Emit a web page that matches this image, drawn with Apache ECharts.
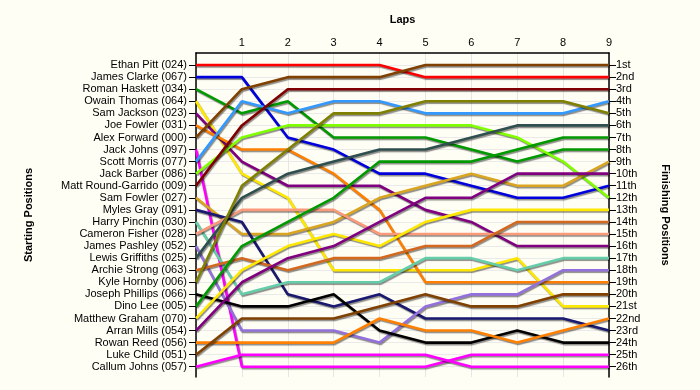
<!DOCTYPE html>
<html>
<head>
<meta charset="utf-8">
<script src="https://cdn.jsdelivr.net/npm/echarts@6/dist/echarts.min.js"></script>
<style>
html,body{margin:0;padding:0;background:#FFFEF5;}
#chart{width:700px;height:390px;}
</style>
</head>
<body>
<div id="chart"></div>
<script>
// ---- data ----
const laps = [0, 1, 2, 3, 4, 5, 6, 7, 8, 9];
const lapLabels = ['', '1', '2', '3', '4', '5', '6', '7', '8', '9'];
const drivers = [
  'Ethan Pitt (024)', 'James Clarke (067)', 'Roman Haskett (034)', 'Owain Thomas (064)',
  'Sam Jackson (023)', 'Joe Fowler (031)', 'Alex Forward (000)', 'Jack Johns (097)',
  'Scott Morris (077)', 'Jack Barber (086)', 'Matt Round-Garrido (009)', 'Sam Fowler (027)',
  'Myles Gray (091)', 'Harry Pinchin (030)', 'Cameron Fisher (028)', 'James Pashley (052)',
  'Lewis Griffiths (025)', 'Archie Strong (063)', 'Kyle Hornby (006)', 'Joseph Phillips (066)',
  'Dino Lee (005)', 'Matthew Graham (070)', 'Arran Mills (054)', 'Rowan Reed (056)',
  'Luke Child (051)', 'Callum Johns (057)'
];
const finishLabels = ['1st','2nd','3rd','4th','5th','6th','7th','8th','9th','10th','11th','12th','13th',
  '14th','15th','16th','17th','18th','19th','20th','21st','22nd','23rd','24th','25th','26th'];

// positions at lap 0..9
const ethanPitt        = [1, 1, 1, 1, 1, 2, 2, 2, 2, 2];
const jamesClarke      = [2, 2, 7, 8, 10, 10, 11, 12, 12, 11];
const romanHaskett     = [3, 5, 4, 7, 7, 7, 8, 9, 8, 8];
const owainThomas      = [4, 10, 12, 18, 18, 18, 18, 17, 21, 21];
const samJackson       = [5, 9, 11, 11, 11, 13, 14, 16, 16, 16];
const joeFowler        = [6, 8, 8, 10, 13, 19, 19, 19, 19, 19];
const alexForward      = [7, 3, 2, 2, 2, 1, 1, 1, 1, 1];
const jackJohns        = [8, 26, 26, 26, 26, 26, 25, 25, 25, 25];
const scottMorris      = [9, 4, 5, 4, 4, 5, 5, 5, 5, 4];
const jackBarber       = [10, 7, 6, 6, 6, 6, 6, 7, 9, 12];
const mattRoundGarrido = [11, 6, 3, 3, 3, 3, 3, 3, 3, 3];
const samFowler        = [12, 15, 15, 14, 12, 11, 10, 11, 11, 9];
const mylesGray        = [13, 14, 20, 21, 20, 22, 22, 22, 22, 23];
const harryPinchin     = [14, 20, 19, 19, 19, 17, 17, 18, 17, 17];
const cameronFisher    = [15, 13, 13, 13, 15, 15, 15, 15, 15, 15];
const jamesPashley     = [16, 23, 23, 23, 24, 21, 20, 20, 18, 18];
const lewisGriffiths   = [17, 12, 10, 9, 8, 8, 7, 6, 6, 6];
const archieStrong     = [18, 17, 18, 17, 17, 16, 16, 14, 14, 14];
const kyleHornby       = [19, 11, 8, 5, 5, 4, 4, 4, 4, 5];
const josephPhillips   = [20, 21, 21, 20, 23, 24, 24, 23, 24, 24];
const dinoLee          = [21, 16, 14, 12, 9, 9, 9, 8, 7, 7];
const matthewGraham    = [22, 18, 16, 15, 16, 14, 13, 13, 13, 13];
const arranMills       = [23, 19, 17, 16, 14, 12, 12, 10, 10, 10];
const rowanReed        = [24, 24, 24, 24, 22, 23, 23, 24, 23, 22];
const lukeChild        = [25, 22, 22, 22, 21, 20, 21, 21, 20, 20];
const callumJohns      = [26, 25, 25, 25, 25, 25, 26, 26, 26, 26];

const positionLists = [
  ethanPitt, jamesClarke, romanHaskett, owainThomas, samJackson, joeFowler, alexForward,
  jackJohns, scottMorris, jackBarber, mattRoundGarrido, samFowler, mylesGray, harryPinchin,
  cameronFisher, jamesPashley, lewisGriffiths, archieStrong, kyleHornby, josephPhillips,
  dinoLee, matthewGraham, arranMills, rowanReed, lukeChild, callumJohns
];

// ---- styles ----
const colors = [
  '#FF0000', '#0000DD', '#009900', '#FFE800', '#800080', '#FF8000', '#804000', '#FF00FF',
  '#3399FF', '#80FF00', '#800000', '#DAA520', '#191970', '#66CDAA', '#FA9A7A', '#9370DB',
  '#2F4F4F', '#D2691E', '#808000', '#000000', '#009900', '#FFE800', '#800080', '#FF8000',
  '#804000', '#FF00FF'
];

const rows = drivers.map((d, i) => i + 1);
const fontFamily = 'Arial, "Liberation Sans", sans-serif';

const series = positionLists.map((p, i) => ({
  name: drivers[i],
  type: 'line',
  data: laps.map((l, k) => [l, p[k]]),
  symbol: 'none',
  z: 3,
  lineStyle: {
    color: colors[i], width: 2.6,
    shadowColor: 'rgba(0,0,0,0.45)', shadowBlur: 1, shadowOffsetX: 1, shadowOffsetY: 1.5
  },
  itemStyle: { color: colors[i] },
  animation: false
}));

const yCommon = {
  type: 'value', inverse: true, min: 0, max: 26.85,
  axisLine: { show: true, lineStyle: { color: '#000', width: 1.5 } },
  axisTick: { show: true, length: 7, customValues: rows, lineStyle: { color: '#000', width: 1 } },
  splitLine: { show: true, lineStyle: { color: '#EAEAEA', width: 1 } },
  nameLocation: 'middle',
  nameTextStyle: { fontFamily, fontSize: 11, fontWeight: 'bold', color: '#000' }
};

const chart = echarts.init(document.getElementById('chart'), null, { renderer: 'canvas' });
chart.setOption({
  backgroundColor: '#FFFEF5',
  animation: false,
  grid: { left: 196, right: 91, top: 53, bottom: 13, containLabel: false },
  xAxis: {
    type: 'value', position: 'top', min: 0, max: 9, interval: 1,
    name: 'Laps', nameLocation: 'middle', nameGap: 28,
    nameTextStyle: { fontFamily, fontSize: 11, fontWeight: 'bold', color: '#000' },
    axisLine: { show: true, lineStyle: { color: '#000', width: 1.5 } },
    axisTick: { show: false },
    axisLabel: { margin: 5, fontFamily, fontSize: 11, color: '#000',
      formatter: v => lapLabels[v] },
    splitLine: { show: true, lineStyle: { color: '#E6E6E6', width: 1 } }
  },
  yAxis: [
    Object.assign({}, yCommon, {
      position: 'left', name: 'Starting Positions', nameGap: 162, nameRotate: 90,
      axisLabel: { margin: 9, fontFamily, fontSize: 11, color: '#000', customValues: rows,
        formatter: v => drivers[v - 1] || '' }
    }),
    Object.assign({}, yCommon, {
      position: 'right', name: 'Finishing Positions', nameGap: 51, nameRotate: -90,
      splitLine: { show: false },
      axisLabel: { margin: 7, fontFamily, fontSize: 11, color: '#000', customValues: rows,
        formatter: v => finishLabels[v - 1] || '' }
    })
  ],
  series: series
});
</script>
</body>
</html>
